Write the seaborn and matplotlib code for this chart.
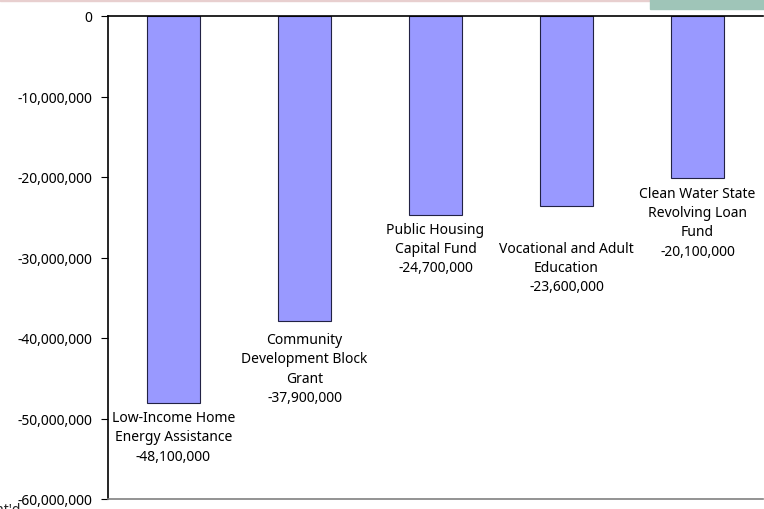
import matplotlib.pyplot as plt
import matplotlib.patches as mpatches
import matplotlib.ticker as mticker
import seaborn as sns

programs = [
    "Low-Income Home\nEnergy Assistance",
    "Community\nDevelopment Block\nGrant",
    "Public Housing\nCapital Fund",
    "Vocational and Adult\nEducation",
    "Clean Water State\nRevolving Loan\nFund",
]
cuts = [-48100000, -37900000, -24700000, -23600000, -20100000]
y_ticks = [0, -10000000, -20000000, -30000000, -40000000, -50000000, -60000000]

# extra downward offset (points) of each data label below its bar
label_pad = [5, 8, 5, 25, 6]

sns.set_theme(style="white")
plt.rcParams["font.family"] = ["Noto Sans", "DejaVu Sans"]

fig = plt.figure(figsize=(7.64, 5.10), dpi=100)
ax = fig.add_axes([108 / 764, 10 / 510, 655 / 764, 483 / 510])

sns.barplot(x=list(range(len(cuts))), y=cuts, ax=ax, color="#9999FF", saturation=1,
            width=0.41, edgecolor="#222244", linewidth=0.8)

ax.set_ylim(-60000000, 0)
ax.set_xlim(-0.5, len(cuts) - 0.5)
ax.set_yticks(y_ticks)
ax.yaxis.set_major_formatter(mticker.FuncFormatter(lambda v, p: f"{int(v):,}"))
ax.tick_params(axis="y", direction="out", length=5, width=0.8, colors="black",
               labelsize=10, pad=6, left=True)
ax.set_xticks([])
ax.set_xlabel("")
ax.set_ylabel("")

for side in ["top", "left"]:
    ax.spines[side].set_color("black")
    ax.spines[side].set_linewidth(1.2)
ax.spines["bottom"].set_color("#808080")
ax.spines["bottom"].set_linewidth(1.2)
ax.spines["right"].set_visible(False)

for i, (name, val) in enumerate(zip(programs, cuts)):
    ax.annotate(f"{name}\n{val:,}", xy=(i, val), xytext=(0, -label_pad[i]),
                textcoords="offset points", ha="center", va="top",
                fontsize=10, linespacing=1.38, color="black")

# decorations from the slide the chart was cut from
fig.patches.append(mpatches.Rectangle((0, 508 / 510), 1, 2 / 510, transform=fig.transFigure,
                                      color="#E8CFCF", zorder=0))
fig.patches.append(mpatches.Rectangle((650 / 764, 500 / 510), 114 / 764, 10 / 510,
                                      transform=fig.transFigure, color="#9FC5B8", zorder=1))
fig.text(-22 / 764, -8 / 510, "Cont'd", fontsize=10, fontweight="bold", ha="left", va="bottom")

fig.savefig("out.png", dpi=100)
